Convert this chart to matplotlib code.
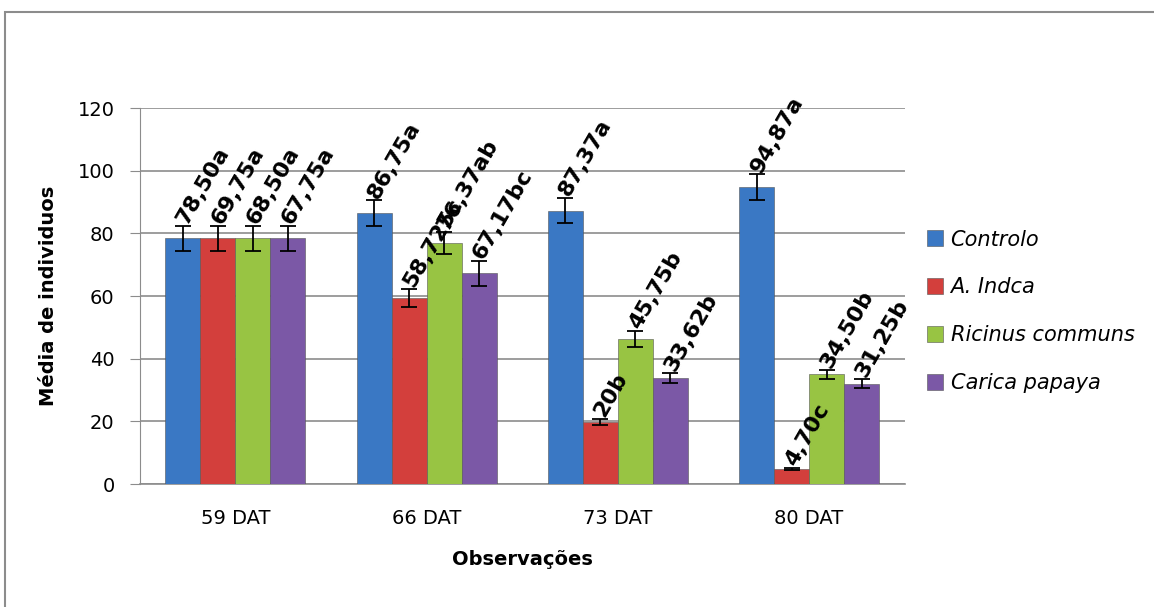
import matplotlib.pyplot as plt
import numpy as np
from matplotlib.patches import Rectangle

categorias = ['59 DAT', '66 DAT', '73 DAT', '80 DAT']
tratamentos = ['Controlo', 'A. Indca', 'Ricinus communs', 'Carica papaya']
cores = ['#3A78C4', '#D33F3C', '#98C443', '#7B58A6']

controlo = [78.5, 86.5, 87.2, 94.8]
a_indca = [78.5, 59.4, 19.8, 4.7]
ricinus = [78.5, 77.0, 46.3, 35.0]
carica = [78.5, 67.3, 33.8, 32.0]

erro_controlo = [4.0, 4.0, 4.0, 4.0]
erro_a_indca = [4.0, 3.0, 1.0, 0.3]
erro_ricinus = [4.0, 3.5, 2.5, 1.5]
erro_carica = [4.0, 4.0, 1.5, 1.5]

rotulos_controlo = ['78,50a', '86,75a', '87,37a', '94,87a']
rotulos_a_indca = ['69,75a', '58,725c', '20b', '4,70c']
rotulos_ricinus = ['68,50a', '76,37ab', '45,75b', '34,50b']
rotulos_carica = ['67,75a', '67,17bc', '33,62b', '31,25b']

series = [controlo, a_indca, ricinus, carica]
erros = [erro_controlo, erro_a_indca, erro_ricinus, erro_carica]
rotulos = [rotulos_controlo, rotulos_a_indca, rotulos_ricinus, rotulos_carica]

fig = plt.figure(figsize=(11.54, 6.07), dpi=100)
fig.patches.append(Rectangle((0.004, -0.01), 1.1, 0.99, transform=fig.transFigure,
                             fill=False, edgecolor='#8c8c8c', linewidth=1.5))
ax = fig.add_axes([0.121, 0.2026, 0.663, 0.6194])

x = np.arange(len(categorias))
largura = 0.183
for i, (vals, errs, rots) in enumerate(zip(series, erros, rotulos)):
    pos = x + (i - 1.5) * largura
    ax.bar(pos, vals, largura, color=cores[i], edgecolor='#555555', linewidth=0.4,
           label=tratamentos[i], zorder=3)
    ax.errorbar(pos, vals, yerr=errs, fmt='none', ecolor='black', elinewidth=1.3,
                capsize=6, capthick=1.3, zorder=4)
    for p, v, e, r in zip(pos, vals, errs, rots):
        ax.text(p + 0.04, v + e - 0.5, r, rotation=60, rotation_mode='anchor',
                ha='left', va='bottom', fontsize=16, fontweight='bold', zorder=5)

ax.set_xlim(-0.5, 3.5)
ax.set_ylim(0, 120)
ax.set_yticks(range(0, 121, 20))
ax.set_xticks(x)
ax.set_xticklabels(categorias, fontsize=14)
for t in ax.get_yticklabels():
    t.set_fontsize(14)
ax.tick_params(axis='x', length=0, pad=18)
ax.tick_params(axis='y', length=7, color='#8c8c8c', pad=11)
ax.grid(axis='y', color='#8c8c8c', linewidth=1.2, zorder=0)
for s in ['top', 'right']:
    ax.spines[s].set_visible(False)
ax.spines['left'].set_color('#8c8c8c')
ax.spines['bottom'].set_color('#8c8c8c')
ax.spines['bottom'].set_linewidth(1.2)

ax.set_xlabel('Observações', fontsize=14, fontweight='bold', labelpad=16)
ax.set_ylabel('Média de individuos', fontsize=14, fontweight='bold', labelpad=14)

leg = ax.legend(loc='center left', bbox_to_anchor=(1.004, 0.459), frameon=False,
                prop={'style': 'italic', 'size': 15}, handlelength=0.8,
                handleheight=0.8, handletextpad=0.35, labelspacing=1.34)

fig.savefig('out.png', dpi=100)
